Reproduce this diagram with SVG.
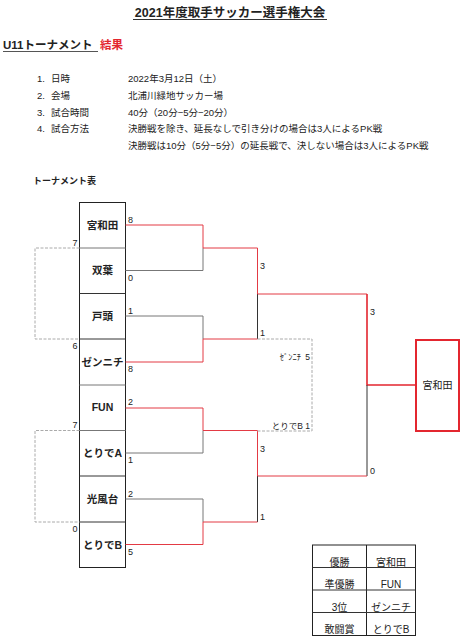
<svg xmlns="http://www.w3.org/2000/svg" width="468" height="640" viewBox="0 0 468 640">
<style>
text{font-family:"Liberation Sans","Noto Sans CJK JP",sans-serif;fill:#222}
.title{font-size:12.5px;font-weight:bold}
.sub{font-size:11.5px;font-weight:bold}
.li{font-size:9.5px}
.team{font-size:10.5px;font-weight:bold;text-anchor:middle}
.sc{font-size:9px}
.scr{font-size:9px;text-anchor:end}
.sm{font-size:8.5px;text-anchor:end}
.tb{font-size:10px;text-anchor:middle}
.r{stroke:#e33a44;stroke-width:1;fill:none}
.rb{stroke:#e3262f;stroke-width:1.6;fill:none}
.k{stroke:#333;stroke-width:1;fill:none}
.g{stroke:#777;stroke-width:1;fill:none}
.d{stroke:#aaa;stroke-width:1;fill:none;stroke-dasharray:3 1.5}
.box{stroke:#222;stroke-width:1;fill:none}
</style>
<rect width="468" height="640" fill="#fff"/>
<g id="header">
<text class="title" x="230" y="17" text-anchor="middle">2021年度取手サッカー選手権大会</text>
<line x1="133" y1="19.5" x2="327" y2="19.5" stroke="#333" stroke-width="1"/>
<text class="sub" x="3" y="49">U11トーナメント</text>
<text class="sub" x="100" y="49" style="fill:#e3262f">結果</text>
<line x1="3" y1="51.5" x2="98" y2="51.5" stroke="#555" stroke-width="1"/>
<text class="li" x="37" y="82">1.</text><text class="li" x="51" y="82">日時</text><text class="li" x="128" y="82">2022年3月12日（土）</text>
<text class="li" x="37" y="99">2.</text><text class="li" x="51" y="99">会場</text><text class="li" x="128" y="99">北浦川緑地サッカー場</text>
<text class="li" x="37" y="115.5">3.</text><text class="li" x="51" y="115.5">試合時間</text><text class="li" x="128" y="115.5">40分（20分−5分−20分）</text>
<text class="li" x="37" y="132">4.</text><text class="li" x="51" y="132">試合方法</text><text class="li" x="128" y="132">決勝戦を除き、延長なしで引き分けの場合は3人によるPK戦</text>
<text class="li" x="128" y="148.5">決勝戦は10分（5分−5分）の延長戦で、決しない場合は3人によるPK戦</text>
<text x="33" y="183.5" style="font-size:9px;font-weight:bold">トーナメント表</text>
</g>
<g id="teams">
<rect class="box" x="79.5" y="202.5" width="46" height="365"/>
<line class="g" x1="79.5" y1="248" x2="125.5" y2="248"/>
<line class="k" x1="79.5" y1="293.5" x2="125.5" y2="293.5"/>
<line class="k" x1="79.5" y1="339" x2="125.5" y2="339"/>
<line class="g" x1="79.5" y1="385" x2="125.5" y2="385"/>
<line class="g" x1="79.5" y1="430.5" x2="125.5" y2="430.5"/>
<line class="k" x1="79.5" y1="476" x2="125.5" y2="476"/>
<line class="k" x1="79.5" y1="522" x2="125.5" y2="522"/>
<g id="t1"><text class="team" x="102.5" y="228.5">宮和田</text></g>
<g id="t2"><text class="team" x="102.5" y="274">双葉</text></g>
<g id="t3"><text class="team" x="102.5" y="319.5">戸頭</text></g>
<g id="t4"><text class="team" x="102.5" y="365.5">ゼンニチ</text></g>
<g id="t5"><text class="team" x="102.5" y="411">FUN</text></g>
<g id="t6"><text class="team" x="102.5" y="457">とりでA</text></g>
<g id="t7"><text class="team" x="102.5" y="502.5">光風台</text></g>
<g id="t8"><text class="team" x="102.5" y="548.5">とりでB</text></g>
</g>
<g id="champion">
<rect x="416" y="340" width="43" height="91" fill="none" stroke="#e3262f" stroke-width="2"/>
<text x="437.5" y="388.5" text-anchor="middle" style="font-size:10px">宮和田</text>
</g>
<g id="connectors">
<polyline class="r" points="125.5,225 203,225 203,248"/>
<polyline class="g" points="125.5,270.5 203,270.5 203,248"/>
<polyline class="g" points="125.5,316 203,316 203,339"/>
<polyline class="r" points="125.5,362 203,362 203,339"/>
<polyline class="r" points="125.5,408 203,408 203,430.5"/>
<polyline class="g" points="125.5,453 203,453 203,430.5"/>
<polyline class="g" points="125.5,499 203,499 203,522"/>
<polyline class="r" points="125.5,544.5 203,544.5 203,522"/>
<polyline class="r" points="203,248 257.5,248 257.5,294"/>
<polyline class="k" points="257.5,294 257.5,339"/>
<line class="r" x1="203" y1="339" x2="257.5" y2="339"/>
<polyline class="r" points="203,430.5 257.5,430.5 257.5,476"/>
<polyline class="k" points="257.5,476 257.5,522"/>
<line class="r" x1="203" y1="522" x2="257.5" y2="522"/>
<polyline class="r" points="257.5,294 367,294"/>
<polyline class="rb" points="367,294 367,385 416,385"/>
<polyline class="k" points="367,385 367,476"/>
<line class="r" x1="257.5" y1="476" x2="367" y2="476"/>
<polyline class="d" points="257.5,339 312,339 312,431 257.5,431"/>
<polyline class="d" points="79.5,248 35,248 35,339 79.5,339"/>
<polyline class="d" points="79.5,430.5 35,430.5 35,522 79.5,522"/>
</g>
<g id="scores">
<text class="sc" x="128" y="223">8</text>
<text class="sc" x="128" y="281">0</text>
<text class="sc" x="128" y="314">1</text>
<text class="sc" x="128" y="372">8</text>
<text class="sc" x="128" y="405">2</text>
<text class="sc" x="128" y="463">1</text>
<text class="sc" x="128" y="497">2</text>
<text class="sc" x="128" y="555">5</text>
<text class="sc" x="260" y="269">3</text>
<text class="sc" x="260" y="336">1</text>
<text class="sc" x="260" y="451.5">3</text>
<text class="sc" x="260" y="520">1</text>
<text class="sc" x="370" y="314.5">3</text>
<text class="sc" x="370" y="474">0</text>
<text class="scr" x="77.5" y="246">7</text>
<text class="scr" x="77.5" y="349">6</text>
<text class="scr" x="77.5" y="427.5">7</text>
<text class="scr" x="77.5" y="531.5">0</text>
<text class="sm" x="301" y="360">ｾﾞﾝﾆﾁ</text>
<text class="sm" x="310" y="360">5</text>
<text class="sm" x="310" y="429">とりでB 1</text>
</g>
<g id="results">
<rect class="box" x="312.5" y="545" width="103" height="90.5"/>
<line class="box" x1="366.5" y1="545" x2="366.5" y2="635.5"/>
<line class="k" x1="312.5" y1="567.5" x2="415.5" y2="567.5"/>
<line class="k" x1="312.5" y1="590" x2="415.5" y2="590"/>
<line class="k" x1="312.5" y1="612.5" x2="415.5" y2="612.5"/>
<text class="tb" x="339.5" y="566">優勝</text><text class="tb" x="391" y="566">宮和田</text>
<text class="tb" x="339.5" y="588">準優勝</text><text class="tb" x="391" y="588">FUN</text>
<text class="tb" x="339.5" y="611">3位</text><text class="tb" x="391" y="611">ゼンニチ</text>
<text class="tb" x="339.5" y="633">敢闘賞</text><text class="tb" x="391" y="633">とりでB</text>
</g>
</svg>
